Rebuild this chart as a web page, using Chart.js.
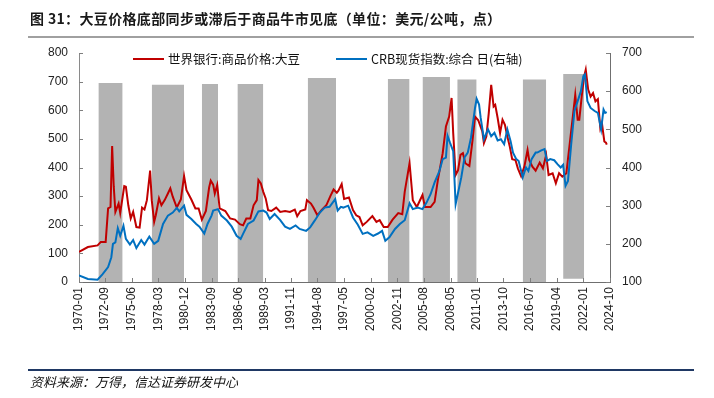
<!DOCTYPE html>
<html><head><meta charset="utf-8">
<script src="https://cdn.jsdelivr.net/npm/chart.js@4.4.1/dist/chart.umd.min.js"></script>
<style>
html,body{margin:0;padding:0;background:#fff;}
#wrap{position:relative;width:714px;height:398px;overflow:hidden;background:#fff;}
#c{position:absolute;left:0;top:0;}
.title{position:absolute;left:30px;top:8px;font:bold 14px "Noto Sans CJK SC";color:#1a1a1a;white-space:nowrap;letter-spacing:0.35px;line-height:20px;}
.rule1{position:absolute;left:28px;top:36px;width:666px;height:2px;background:#a0a0a0;}
.rule2{position:absolute;left:28px;top:369px;width:666px;height:2px;background:#1f3864;}
.src{position:absolute;left:30px;top:372px;font:italic 13px "Noto Sans CJK SC";color:#111;line-height:19px;white-space:nowrap;}
.sw{position:absolute;width:31px;height:2px;}
.lt{position:absolute;font:12.5px "Noto Sans CJK SC";color:#111;white-space:nowrap;line-height:16px;}
</style></head>
<body>
<div id="wrap">
<canvas id="c" width="714" height="398"></canvas>
<div class="title">图 31：大豆价格底部同步或滞后于商品牛市见底（单位：美元/公吨，点）</div>
<div class="rule1"></div>
<div class="sw" style="left:133px;top:58px;background:#C00000"></div>
<div class="lt" style="left:168px;top:51px">世界银行:商品价格:大豆</div>
<div class="sw" style="left:336px;top:58px;background:#0070C0"></div>
<div class="lt" style="left:371px;top:51px">CRB现货指数:综合 日(右轴)</div>
<div class="rule2"></div>
<div class="src">资料来源：万得，信达证券研发中心</div>
</div>
<script>
// x tick labels (year-month)
const tickLabels = ['1970-01','1972-09','1975-06','1978-03','1980-12','1983-09','1986-06','1989-03','1991-11','1994-08','1997-05','2000-02','2002-11','2005-08','2008-05','2011-01','2013-10','2016-07','2019-04','2022-01','2024-10'];

// shaded periods (left axis values)
const bandStart  = ['1972-01','1977-07','1982-09','1986-05','1993-08','2001-11','2005-06','2009-01','2015-10','2019-12'];
const bandEnd    = ['1974-07','1980-11','1984-05','1989-01','1996-07','2004-02','2008-04','2011-01','2018-03','2022-02'];
const bandTop    = [695, 689, 692, 692, 713, 709, 716, 707, 707, 727];
const bandBottom = [0, -10, 0, 0, 0, -9, 0, 0, 0, 11];

// World Bank soybean price (USD/t), months since 1970-01
const soyMonth = [0,11,23,27,33,36,39,41,43,45,49,51,56,58,61,64,67,71,75,78,81,84,88,90,93,95,99,102,106,110,113,116,121,126,130,133,139,144,148,152,157,161,163,166,168,171,174,181,187,193,199,203,207,212,216,220,222,225,228,231,234,238,244,249,255,261,267,270,274,280,282,287,290,295,300,306,311,315,319,321,325,328,334,339,343,347,351,356,363,368,372,377,382,388,395,400,403,409,413,418,425,428,435,440,444,450,454,458,461,463,466,469,472,475,478,483,487,490,494,499,501,504,507,510,513,515,518,521,524,527,530,533,536,540,543,547,551,555,557,561,565,570,574,578,581,586,590,594,598,603,607,611,614,617,619,622,625,627,630,633,636,639,642,645,647,650,652,653];
const soyPrice = [105,122,128,140,140,257,262,475,333,245,274,241,335,333,268,222,245,192,190,260,253,286,389,286,210,233,292,268,286,309,327,298,260,288,370,321,288,257,257,218,248,330,354,340,309,339,257,248,222,218,202,198,222,222,268,286,356,344,315,292,251,248,260,245,248,245,253,230,248,253,286,274,260,233,251,268,300,323,312,319,342,290,295,251,233,227,198,210,230,210,216,192,192,218,241,237,315,415,286,262,304,262,262,280,356,450,543,578,643,520,374,391,444,450,415,405,497,578,565,526,485,508,590,689,613,619,573,520,567,549,508,473,429,426,397,370,403,461,426,403,389,417,397,444,374,380,345,380,368,380,479,578,654,567,567,648,718,742,672,648,660,631,639,538,555,491,487,480];

// CRB spot index: composite (right axis), months since 1970-01
const crbMonth = [0,11,23,29,36,40,42,45,48,51,55,58,63,67,71,77,81,87,93,98,104,110,116,121,124,130,133,139,145,149,155,159,164,166,172,176,183,189,195,200,203,209,216,222,228,232,236,242,249,255,261,268,273,281,286,292,298,304,310,317,320,324,327,333,339,345,351,357,364,370,375,379,384,391,397,403,409,413,419,425,430,435,440,446,450,454,456,459,463,466,469,473,477,481,485,490,492,495,497,501,506,510,514,518,522,526,530,534,537,541,544,549,553,556,560,565,567,572,576,579,583,588,592,596,599,602,605,609,613,617,621,624,626,629,633,638,642,646,649,651,653];
const crbIndex = [117,108,106,120,139,165,200,204,241,221,247,213,198,210,189,210,198,219,200,208,252,274,282,294,285,300,276,265,252,245,227,252,274,287,291,274,261,245,221,213,226,252,261,285,287,282,265,278,262,245,239,248,239,234,243,262,282,295,297,317,287,297,295,300,269,250,226,230,221,227,234,208,217,239,252,262,306,291,295,291,308,330,361,391,422,426,483,465,443,304,334,374,426,439,478,556,580,565,530,474,500,482,491,471,474,461,500,469,439,422,417,374,400,391,422,439,439,445,448,417,422,419,409,400,407,352,365,461,548,574,600,639,644,574,556,548,543,500,552,543,545];

function mi(s){const p=s.split('-').map(Number);return (p[0]-1970)*12+p[1]-1;}

const datasets = [
  {label:'CRB现货指数:综合 日(右轴)', data: crbMonth.map((m,i)=>({x:m,y:crbIndex[i]})), yAxisID:'y1',
   borderColor:'#0070C0', backgroundColor:'#0070C0', borderWidth:2, pointRadius:0, fill:false, order:0},
  {label:'世界银行:商品价格:大豆', data: soyMonth.map((m,i)=>({x:m,y:soyPrice[i]})), yAxisID:'y',
   borderColor:'#C00000', backgroundColor:'#C00000', borderWidth:2, pointRadius:0, fill:false, order:1}
];
bandStart.forEach((s,i)=>{
  datasets.push({label:'band'+i, data:[{x:mi(s),y:bandTop[i]},{x:mi(bandEnd[i]),y:bandTop[i]}], yAxisID:'y',
    borderWidth:0, borderColor:'rgba(0,0,0,0)', pointRadius:0, backgroundColor:'#b3b3b3', fill:{value:bandBottom[i]}, order:10});
});

const innerTicks = {id:'innerTicks', afterDatasetsDraw(chart){
  const {ctx, chartArea:a, scales} = chart;
  ctx.save(); ctx.strokeStyle='#7f7f7f'; ctx.lineWidth=1; ctx.beginPath();
  scales.y.ticks.forEach(t=>{const p=Math.round(scales.y.getPixelForValue(t.value))+0.5; ctx.moveTo(a.left,p); ctx.lineTo(a.left+4,p);});
  scales.y1.ticks.forEach(t=>{const p=Math.round(scales.y1.getPixelForValue(t.value))+0.5; ctx.moveTo(a.right-4,p); ctx.lineTo(a.right,p);});
  scales.x.ticks.forEach(t=>{const p=Math.round(scales.x.getPixelForValue(t.value))+0.5; ctx.moveTo(p,a.bottom-4); ctx.lineTo(p,a.bottom);});
  ctx.stroke(); ctx.restore();
}};

const tickFont = {family:'Liberation Sans', size:12};
new Chart(document.getElementById('c'), {
  type:'line',
  data:{datasets},
  plugins:[innerTicks],
  options:{
    responsive:false, animation:false, devicePixelRatio:1,
    layout:{padding:{top:53,left:0,right:0,bottom:0}},
    plugins:{legend:{display:false}, tooltip:{enabled:false}},
    scales:{
      x:{type:'linear', min:0, max:mi('2024-10'),
         afterBuildTicks:s=>{s.ticks = tickLabels.map(l=>({value:mi(l)}));},
         ticks:{autoSkip:false, maxRotation:90, minRotation:90, padding:5, font:tickFont, color:'#222',
           callback:(v)=>{const i=tickLabels.findIndex(l=>mi(l)===v); return i>=0?tickLabels[i]:'';}},
         grid:{display:false, drawTicks:false}, border:{display:true, color:'#6f6f6f', width:1},
         afterFit:s=>{s.height=116;}},
      y:{position:'left', min:0, max:800,
         ticks:{stepSize:100, padding:11, font:tickFont, color:'#222'},
         grid:{display:false, drawTicks:false}, border:{display:true, color:'#8a8a8a', width:1},
         afterFit:s=>{s.width=79;}},
      y1:{position:'right', min:100, max:700,
         ticks:{stepSize:100, padding:12, font:tickFont, color:'#222'},
         grid:{display:false, drawTicks:false}, border:{display:true, color:'#6f6f6f', width:1},
         afterFit:s=>{s.width=104;}}
    }
  }
});
</script>
</body></html>
